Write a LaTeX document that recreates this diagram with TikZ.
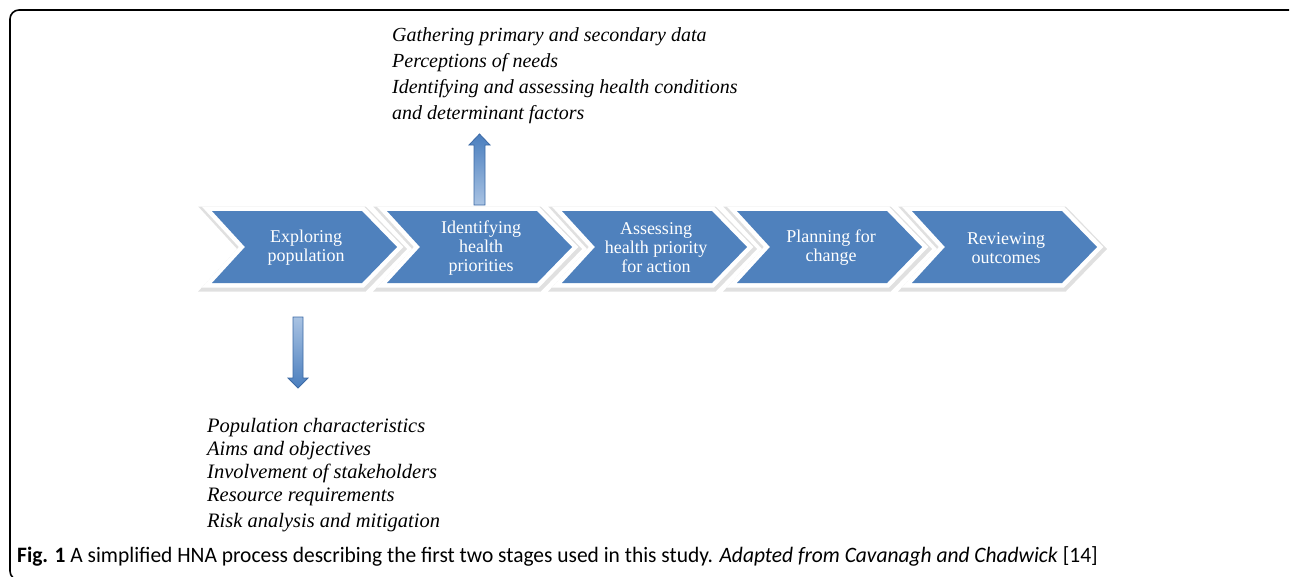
\documentclass[tikz,border=0pt]{standalone}
\usepackage{fontspec}
\setmainfont{Liberation Serif}
\newfontfamily\notefont{Liberation Serif}
\newfontfamily\capfont[FakeStretch=0.975]{Carlito}
\usetikzlibrary{positioning}
\definecolor{stageblue}{HTML}{4F81BD}
\definecolor{arrowdark}{HTML}{4A7EBE}
\definecolor{arrowlight}{HTML}{A9C3E3}
\definecolor{arrowline}{HTML}{3C6AA5}
\tikzstyle{stage}=[fill=stageblue, line join=miter,
    preaction={draw=black!12, line width=13pt, line join=miter, transform canvas={shift={(1pt,-2pt)}}},
    preaction={draw=white, line width=9pt, line join=miter}]
\tikzstyle{stagetext}=[text=white, align=center, font=\fontsize{18}{19}\selectfont]
\tikzstyle{note}=[align=left, inner sep=0pt, anchor=north west]
\tikzstyle{blockarrow}=[draw=arrowline, line width=0.8pt, line join=miter]

\begin{document}
\begin{tikzpicture}[x=1pt, y=-1pt]
    \useasboundingbox (0,0) rectangle (1290,576);
    % frame
    \draw[line width=1.6pt, rounded corners=9pt] (1289,10) -- (10,10) -- (10,580) -- (40,580);
    % the five stages
    \foreach \x/\name/\txt in {212/explore/{Exploring\\population}, 387/identify/{Identifying\\health\\priorities},
        562/assess/{Assessing\\health priority\\for action}, 737/plan/{Planning for\\change}, 912/review/{Reviewing\\outcomes}}
    {
        \path[stage] (\x,211) -- ++(150,0) -- ++(35,36) -- ++(-35,36) -- ++(-150,0) -- ++(33,-36) -- cycle;
        \node[stagetext] (\name) at (\x+94,248) {\txt};
    }
    % notes above and below
    \node[note, font=\fontsize{20}{26}\selectfont\itshape] (gather) at (392,27)
        {Gathering primary and secondary data\\Perceptions of needs\\Identifying and assessing health conditions\\and determinant factors};
    \node[note, font=\notefont\fontsize{20.5}{23}\selectfont\itshape] (popul) at (207,418)
        {Population characteristics\\Aims and objectives\\Involvement of stakeholders\\Resource requirements\\[3pt]Risk analysis and mitigation};
    % block arrows
    \coordinate (uptail) at (479,205);
    \coordinate (downtail) at (298,317);
    \path[blockarrow, top color=arrowdark, bottom color=arrowlight] (uptail) ++(-5,0) -- ++(0,-60) -- ++(-5,0)
        -- ++(10.5,-11) -- ++(10.5,11) -- ++(-5,0) -- ++(0,60) -- cycle;
    \path[blockarrow, top color=arrowlight, bottom color=arrowdark] (downtail) ++(-5,0) -- ++(0,61) -- ++(-5,0)
        -- ++(10,10) -- ++(10,-10) -- ++(-5,0) -- ++(0,-61) -- cycle;
    % caption
    \node[anchor=base west, inner sep=0pt, font=\capfont\fontsize{22}{24}\selectfont] (caption) at (17,562)
        {\textbf{Fig. 1} A simplified HNA process describing the first two stages used in this study. \textit{Adapted from Cavanagh and Chadwick} [14]};
\end{tikzpicture}
\end{document}
